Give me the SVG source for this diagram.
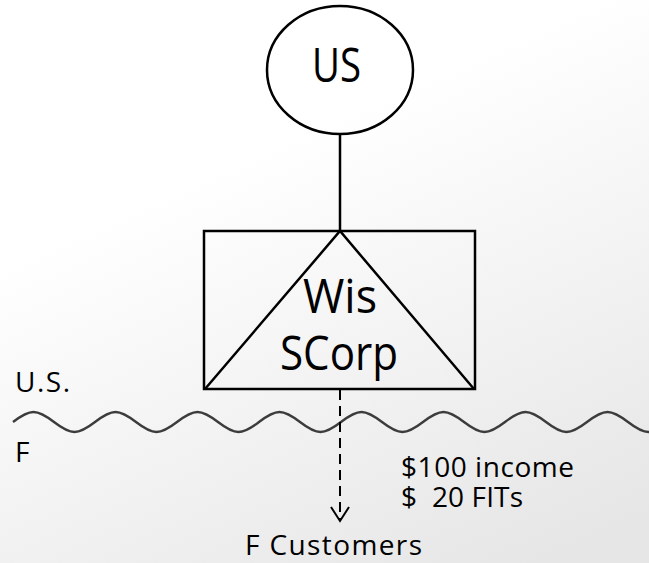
<svg xmlns="http://www.w3.org/2000/svg" width="649" height="563" viewBox="0 0 649 563">
  <defs>
    <linearGradient id="bg" gradientUnits="userSpaceOnUse" x1="250" y1="150" x2="450" y2="600">
      <stop offset="0" stop-color="#ffffff"/>
      <stop offset="1" stop-color="#e6e6e6"/>
    </linearGradient>
    <marker id="vhead" markerWidth="24" markerHeight="20" refX="11" refY="17" orient="0" markerUnits="userSpaceOnUse">
      <path d="M2,3 L11,17 L20,3" fill="none" stroke="#000" stroke-width="2"/>
    </marker>
    <style>
      .shape { fill: none; stroke: #000; stroke-width: 2.5; }
      .lbl { font-family: "Open Sans", "Liberation Sans", sans-serif; fill: #000; }
      .big { font-size: 48px; }
      .mid { font-size: 47px; }
      .small { font-size: 28px; }
    </style>
  </defs>

  <rect x="0" y="0" width="649" height="563" fill="url(#bg)"/>

  <!-- wavy border between the two jurisdictions -->
  <path id="border" d="M13,422 c6.68,-5.12 13.45,-10 20.5,-10
    s13.82,4.88 20.5,10 s13.45,10 20.5,10 s13.82,-4.88 20.5,-10 s13.45,-10 20.5,-10
    s13.82,4.88 20.5,10 s13.45,10 20.5,10 s13.82,-4.88 20.5,-10 s13.45,-10 20.5,-10
    s13.82,4.88 20.5,10 s13.45,10 20.5,10 s13.82,-4.88 20.5,-10 s13.45,-10 20.5,-10
    s13.82,4.88 20.5,10 s13.45,10 20.5,10 s13.82,-4.88 20.5,-10 s13.45,-10 20.5,-10
    s13.82,4.88 20.5,10 s13.45,10 20.5,10 s13.82,-4.88 20.5,-10 s13.45,-10 20.5,-10
    s13.82,4.88 20.5,10 s13.45,10 20.5,10 s13.82,-4.88 20.5,-10 s13.45,-10 20.5,-10
    s13.82,4.88 20.5,10 s13.45,10 20.5,10 s13.82,-4.88 20.5,-10 s13.45,-10 20.5,-10
    s13.82,4.88 20.5,10 s13.45,10 20.5,10 s13.82,-4.88 20.5,-10 s13.45,-10 20.5,-10"
    fill="none" stroke="#3c3c3c" stroke-width="2.4"/>

  <g id="connectors">
    <line x1="340" y1="134" x2="340" y2="231" class="shape" stroke-width="2"/>
    <line x1="340" y1="390" x2="340" y2="521" fill="none" stroke="#000" stroke-width="2" stroke-dasharray="10,6" marker-end="url(#vhead)"/>
  </g>

  <g id="us">
    <ellipse cx="340" cy="70" rx="73" ry="64" class="shape" fill="#fff"/>
    <text x="312" y="82" class="lbl big" textLength="49" lengthAdjust="spacingAndGlyphs">US</text>
  </g>

  <g id="wis-scorp">
    <rect x="204" y="231" width="271" height="158" class="shape"/>
    <path d="M205,389 L340,231 L474,389" class="shape"/>
    <text x="303" y="313" class="lbl mid" textLength="74" lengthAdjust="spacingAndGlyphs">Wis</text>
    <text x="280" y="370" class="lbl mid" textLength="118" lengthAdjust="spacingAndGlyphs">SCorp</text>
  </g>

  <g id="labels">
    <text x="15" y="392" class="lbl small" textLength="55" lengthAdjust="spacing">U.S.</text>
    <text x="15" y="462" class="lbl small">F</text>
    <text x="401" y="477" class="lbl small" textLength="173" lengthAdjust="spacing">$100 income</text>
    <text x="401" y="507" class="lbl small" textLength="122" lengthAdjust="spacing" xml:space="preserve">$  20 FITs</text>
  </g>

  <g id="f-customers">
    <text x="245" y="555" class="lbl small" textLength="177" lengthAdjust="spacing">F Customers</text>
  </g>
</svg>
